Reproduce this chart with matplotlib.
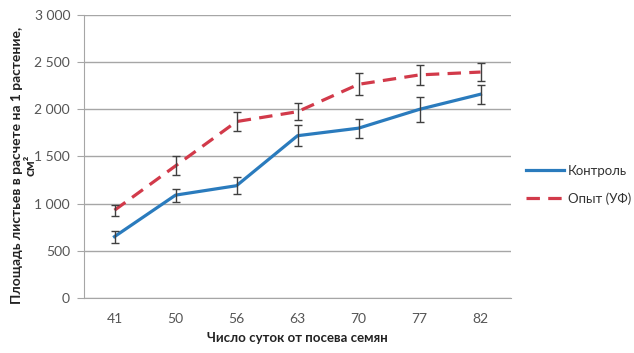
import matplotlib
matplotlib.use("Agg")
import matplotlib.pyplot as plt
import numpy as np

plt.rcParams['font.family'] = ['Lato', 'DejaVu Sans']

days = ['41', '50', '56', '63', '70', '77', '82']
control = [650, 1090, 1190, 1720, 1800, 2000, 2160]
control_err = [65, 70, 90, 110, 100, 130, 100]
uv = [930, 1400, 1870, 1975, 2265, 2365, 2395]
uv_err = [60, 100, 100, 90, 115, 110, 95]
yticks = [0, 500, 1000, 1500, 2000, 2500, 3000]
ytick_labels = ['0', '500', '1 000', '1 500', '2 000', '2 500', '3 000']

fig = plt.figure(figsize=(6.34, 3.53), dpi=100)
ax = fig.add_axes([0.1325, 0.156, 0.6735, 0.8015])

x = np.arange(len(days))
blue = '#2a7bbd'
red = '#d23a4a'
ax.plot(x, control, color=blue, lw=2.3, label='Контроль', zorder=3)
ax.plot(x, uv, color=red, lw=2.3, ls=(0, (4.2, 2.6)), label='Опыт (УФ)', zorder=3)
ax.errorbar(x, control, yerr=control_err, fmt='none', ecolor='#404040',
            elinewidth=1, capsize=3, capthick=1, zorder=4)
ax.errorbar(x, uv, yerr=uv_err, fmt='none', ecolor='#404040',
            elinewidth=1, capsize=3, capthick=1, zorder=4)

ax.set_xlim(-0.5, len(days) - 0.5)
ax.set_ylim(0, 3000)
ax.set_xticks(x)
ax.set_xticklabels(days)
ax.set_yticks(yticks)
ax.set_yticklabels(ytick_labels)
ax.grid(axis='y', color='#a6a6a6', lw=1)
ax.set_axisbelow(True)
for s in ['top', 'right']:
    ax.spines[s].set_visible(False)
for s in ['left', 'bottom']:
    ax.spines[s].set_color('#a6a6a6')
ax.tick_params(axis='y', length=5, color='#a6a6a6', labelcolor='#555555', labelsize=10, pad=5)
ax.tick_params(axis='x', length=0, labelcolor='#555555', labelsize=10, pad=11)

ax.set_xlabel('Число суток от посева семян', fontsize=9.5, fontweight='bold',
              color='#222222', labelpad=5)
ax.set_ylabel('Площадь листьев в расчете на 1 растение,\nсм²', fontsize=10,
              fontweight='bold', color='#222222', linespacing=1.15)
ax.yaxis.set_label_coords(-0.112, 0.47)

ax.legend(loc='center left', bbox_to_anchor=(1.0, 0.40), frameon=False,
          fontsize=9.5, labelcolor='#333333', handlelength=2.9, handletextpad=0.3,
          labelspacing=1.15, borderaxespad=0.7)

fig.savefig('out.png', dpi=100)
